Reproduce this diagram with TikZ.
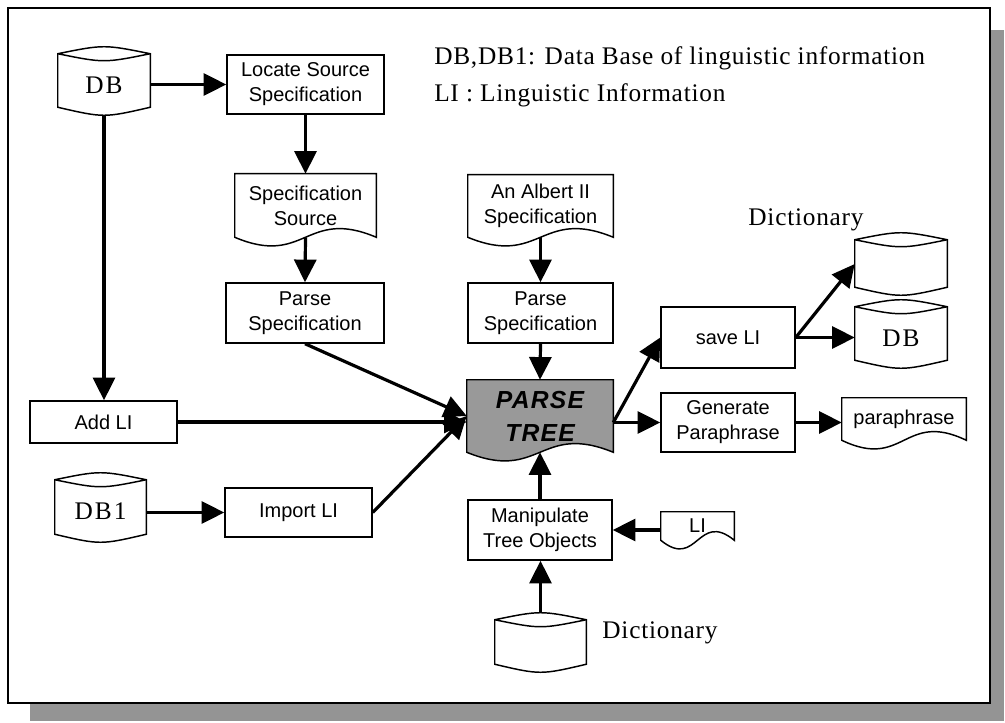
\documentclass[tikz,border=0pt]{standalone}
\usepackage{fontspec}
\setmainfont{Liberation Serif}
\setsansfont{Liberation Sans}
\newfontfamily\lsserif[LetterSpace=3]{Liberation Serif}
\newfontfamily\dbserif[LetterSpace=8]{Liberation Serif}
\newfontfamily\ptsans[LetterSpace=5]{Liberation Sans}
\usetikzlibrary{arrows.meta,calc}
\pgfdeclarelayer{back}\pgfdeclarelayer{bg}\pgfsetlayers{back,bg,main}

\newcommand\mynode[7][]{%
 \node[#1, minimum width={(#5-#3)*0.75pt}, minimum height={(#6-#4)*0.75pt}] (#2) at ({(#3+#5)/2},{(#4+#6)/2}) {#7};}

\newcommand\cylshape[1]{%
 \draw[thinline] let \p1=(#1.north west), \p2=(#1.south east) in
  (\x1,{\y1-5.25pt}) -- (\x1,{\y2+6pt}) .. controls ({(\x1+\x2)/2},{\y2-2pt}) .. (\x2,{\y2+6pt})
  -- (\x2,{\y1-5.25pt}) .. controls ({(\x1+\x2)/2},{\y1+1.75pt}) .. (\x1,{\y1-5.25pt}) -- cycle
  (\x1,{\y1-5.25pt}) .. controls ({(\x1+\x2)/2},{\y1-12.25pt}) .. (\x2,{\y1-5.25pt});}

\newcommand\docshape[2][]{%
 \draw[thinline,#1] let \p1=(#2.north west), \p2=(#2.south east) in
  (\x1,\y2) -- (\x1,\y1) -- (\x2,\y1) -- (\x2,\y2)
  .. controls ({(\x1+\x2)/2},{\y2+22.5pt}) and ({(\x1+\x2)/2},{\y2-22.5pt}) .. (\x1,\y2) -- cycle;}

\tikzset{
 thinline/.style={line width=1.1pt},
 lbl/.style={font=\sffamily\fontsize{15}{18.75}\selectfont, align=center, inner sep=0pt},
 box/.style={lbl, draw, thinline},
 plain/.style={lbl},
 cyl/.style={lbl},
 dbfont/.style={font=\dbserif\fontsize{19}{23}\selectfont, inner sep=0pt},
 serif19/.style={font=\lsserif\fontsize{19}{23}\selectfont, inner sep=0pt},
 ptfont/.style={font=\ptsans\bfseries\itshape\fontsize{18.5}{24.75}\selectfont},
 arr/.style={line width=2.4pt, -{Triangle[length=17pt,width=16.5pt]}},
}

\begin{document}
\begin{tikzpicture}[x=0.75pt,y=-0.75pt]
\useasboundingbox (0,0) rectangle (1005,723);
\begin{pgfonlayer}{back}
 \fill[black!42] (30,30) rectangle (1004,721);
 \draw[line width=2.2pt, fill=white] (8,8) rectangle (990,703);
\end{pgfonlayer}

% boxes and documents
\mynode[box]{Locate}{227}{55}{384}{114}{Locate Source\\Specification}
\mynode[plain]{Src}{235}{174}{376}{237}{Specification\\Source}
\mynode[box]{ParseL}{226}{283}{384}{343}{Parse\\Specification}
\mynode[plain]{Albert}{468}{175}{613}{237}{An Albert II\\Specification}
\mynode[box]{ParseM}{468}{283}{613}{343}{Parse\\Specification}
\mynode[box]{AddLI}{30}{401}{177}{443}{Add LI}
\mynode[box]{Import}{225}{488}{372}{537}{Import LI}
\mynode[plain,ptfont]{PT}{467}{380}{613}{452}{PARSE\\TREE}
\mynode[box]{Save}{661}{307}{795}{368}{save LI}
\mynode[box]{Gen}{661}{393}{795}{452}{Generate\\Paraphrase}
\mynode[plain]{Para}{842}{398}{966}{440}{paraphrase}
\mynode[box]{Manip}{468}{500}{612}{560}{Manipulate\\Tree Objects}
\mynode[plain]{LIdoc}{661}{512}{734}{540}{LI}

% cylinders
\mynode[cyl,label={[dbfont,yshift=-3pt,name=DBt]center:DB}]{DB}{58}{47}{150}{115}{}
\mynode[cyl,label={[dbfont,yshift=-3pt,name=DB1t]center:DB1}]{DB1}{55}{473}{146}{542}{}
\mynode[cyl]{DictT}{855}{233}{947}{295}{}
\mynode[cyl,label={[dbfont,yshift=-3pt,name=DBRt]center:DB}]{DBR}{855}{300}{947}{368}{}
\mynode[cyl]{DictB}{495}{613}{586}{672}{}

\begin{pgfonlayer}{bg}
 \docshape{Src}
 \docshape{Albert}
 \docshape[fill=black!40]{PT}
 \docshape{Para}
 \docshape{LIdoc}
 \cylshape{DB}
 \cylshape{DB1}
 \cylshape{DictT}
 \cylshape{DBR}
 \cylshape{DictB}
\end{pgfonlayer}

% texts
\node[serif19, anchor=west] (leg1) at (434,58) {DB,DB1: Data Base of linguistic information};
\node[serif19, anchor=west] (leg2) at (434,95) {LI : Linguistic Information};
\node[serif19] (dictTl) at (806,220) {Dictionary};
\node[serif19] (dictBl) at (660,633) {Dictionary};

% connectors
\draw[arr] (DB.east |- Locate.west) -- (Locate.west);
\draw[arr] (Locate.south) -- (Src.north);
\draw[arr] (Src.south) -- (ParseL.north);
\draw[arr] (DB.south) -- (DB.south |- AddLI.north);
\draw[arr] (ParseL.south) -- (PT.west);
\draw[arr] (AddLI.east) -- (AddLI.east -| PT.west);
\draw[arr] (Import.east) -- (PT.west);
\draw[arr] (DB1.east |- Import.west) -- (Import.west);
\draw[arr] (Albert.south) -- (ParseM.north);
\draw[arr] (ParseM.south) -- (PT.north);
\draw[arr] (Manip.north) -- (PT.south);
\draw[arr] (DictB.north) -- (DictB.north |- Manip.south);
\draw[arr] (LIdoc.west |- Manip.east) -- (Manip.east);
\coordinate (PTo) at (PT.east |- Gen.west);
\draw[arr] (PTo) -- (Save.west);
\draw[arr] (PTo) -- (Gen.west);
\draw[arr] (Gen.east) -- (Gen.east -| Para.west);
\draw[arr] (Save.east) -- (DictT.west);
\draw[arr] (Save.east) -- (Save.east -| DBR.west);
\end{tikzpicture}
\end{document}
